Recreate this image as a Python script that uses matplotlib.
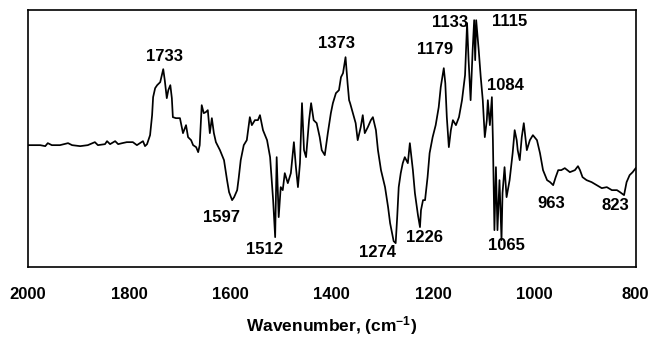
import matplotlib
matplotlib.use("Agg")
import matplotlib.pyplot as plt

plt.rcParams['font.family'] = 'Liberation Sans'
plt.rcParams['font.weight'] = 'bold'
plt.rcParams['mathtext.fontset'] = 'custom'
plt.rcParams['mathtext.rm'] = 'Liberation Sans:bold'
plt.rcParams['mathtext.bf'] = 'Liberation Sans:bold'
plt.rcParams['mathtext.default'] = 'bf'

# difference spectrum, wavenumber (cm-1) vs. relative intensity
wavenumber = [2000, 1976, 1966, 1961, 1953, 1937, 1921, 1913, 1897, 1882,
              1868, 1862, 1848, 1844, 1838, 1828, 1822, 1814, 1805, 1793,
              1785, 1779, 1773, 1769, 1765, 1759, 1755, 1753, 1749, 1745,
              1739, 1733, 1730, 1726, 1723, 1719, 1716, 1714, 1708, 1700,
              1694, 1688, 1684, 1678, 1674, 1668, 1664, 1661, 1657, 1653,
              1649, 1645, 1641, 1637, 1633, 1629, 1621, 1613, 1607, 1603,
              1597, 1593, 1587, 1584, 1580, 1574, 1568, 1562, 1558, 1552,
              1546, 1542, 1536, 1528, 1522, 1516, 1512, 1509, 1505, 1501,
              1497, 1493, 1487, 1481, 1475, 1471, 1467, 1463, 1459, 1455,
              1451, 1445, 1441, 1436, 1430, 1424, 1420, 1414, 1408, 1402,
              1398, 1392, 1386, 1382, 1378, 1373, 1369, 1366, 1364, 1359,
              1353, 1349, 1343, 1339, 1335, 1329, 1323, 1319, 1313, 1309,
              1303, 1295, 1289, 1285, 1278, 1274, 1271, 1268, 1264, 1260,
              1256, 1250, 1246, 1240, 1236, 1230, 1226, 1224, 1220, 1216,
              1211, 1207, 1201, 1195, 1189, 1185, 1179, 1176, 1173, 1169,
              1165, 1161, 1155, 1149, 1143, 1137, 1133, 1130, 1126, 1122,
              1119, 1117, 1115, 1110, 1106, 1102, 1098, 1094, 1092, 1088,
              1084, 1082, 1079, 1076, 1073, 1069, 1065, 1063, 1059, 1055,
              1049, 1043, 1039, 1035, 1033, 1029, 1025, 1021, 1015, 1009,
              1003, 995, 989, 983, 975, 969, 963, 958, 953, 947,
              940, 930, 920, 914, 910, 905, 897, 887, 877, 867,
              857, 847, 837, 831, 823, 818, 812, 806, 800]

intensity = [0.00, 0.00, -0.01, 0.02, 0.00, 0.00, 0.02, 0.00, -0.01, 0.00,
             0.03, 0.00, 0.01, 0.04, 0.01, 0.04, 0.01, 0.02, 0.03, 0.03,
             0.00, 0.02, 0.04, -0.01, 0.01, 0.10, 0.30, 0.48, 0.57, 0.60,
             0.63, 0.76, 0.65, 0.47, 0.55, 0.60, 0.47, 0.28, 0.27, 0.27,
             0.12, 0.20, 0.08, 0.05, 0.00, -0.02, -0.07, 0.00, 0.40, 0.32,
             0.33, 0.35, 0.12, 0.27, 0.12, 0.03, -0.05, -0.15, -0.35, -0.47,
             -0.55, -0.52, -0.45, -0.33, -0.15, 0.00, 0.05, 0.28, 0.20, 0.25,
             0.25, 0.30, 0.15, 0.05, -0.12, -0.55, -0.92, -0.12, -0.72, -0.42,
             -0.45, -0.28, -0.38, -0.28, 0.03, -0.22, -0.42, -0.18, 0.42, -0.05,
             -0.12, 0.25, 0.42, 0.25, 0.22, 0.08, -0.05, -0.10, 0.12, 0.32,
             0.42, 0.52, 0.55, 0.68, 0.72, 0.88, 0.62, 0.45, 0.42, 0.33,
             0.22, 0.05, 0.18, 0.30, 0.12, 0.18, 0.25, 0.28, 0.15, -0.05,
             -0.25, -0.42, -0.62, -0.78, -0.96, -0.98, -0.72, -0.42, -0.28, -0.18,
             -0.12, -0.18, 0.02, -0.25, -0.48, -0.70, -0.82, -0.65, -0.55, -0.55,
             -0.32, -0.08, 0.08, 0.20, 0.38, 0.58, 0.77, 0.62, 0.28, -0.02,
             0.15, 0.25, 0.20, 0.28, 0.45, 0.70, 1.22, 0.85, 0.45, 0.95,
             1.25, 0.85, 1.25, 0.95, 0.68, 0.45, 0.08, 0.25, 0.45, 0.20,
             0.48, 0.05, -0.85, -0.22, -0.85, -0.35, -0.95, -0.48, -0.22, -0.52,
             -0.35, -0.08, 0.15, 0.05, -0.05, -0.15, 0.08, 0.22, -0.05, 0.05,
             0.10, 0.05, -0.08, -0.25, -0.35, -0.37, -0.40, -0.32, -0.25, -0.25,
             -0.23, -0.27, -0.25, -0.21, -0.25, -0.32, -0.35, -0.37, -0.40, -0.43,
             -0.42, -0.45, -0.45, -0.47, -0.50, -0.37, -0.30, -0.27, -0.23]

# peak labels and where their text sits
peak_labels = ['1733', '1597', '1512', '1373', '1274', '1226', '1179',
               '1133', '1115', '1084', '1065', '963', '823']
label_x = [1730, 1617, 1534, 1390, 1309, 1218, 1197,
           1167, 1049, 1057, 1055, 966, 841]
label_y = [0.89, -0.72, -1.04, 1.02, -1.07, -0.92, 0.96,
           1.23, 1.24, 0.60, -1.00, -0.58, -0.60]

fig = plt.figure(figsize=(6.52, 3.39), dpi=100)
ax = fig.add_axes([0.043, 0.212, 0.932, 0.758])

ax.plot(wavenumber, intensity, color='black', linewidth=1.25)

for txt, x, y in zip(peak_labels, label_x, label_y):
    ax.text(x, y, txt, ha='center', va='center', fontsize=12, fontweight='bold')

ax.set_xlim(2000, 800)
ax.set_ylim(-1.22, 1.35)
ax.set_xticks([2000, 1800, 1600, 1400, 1200, 1000, 800])
ax.set_yticks([])
ax.tick_params(axis='x', length=0, pad=14, labelsize=12)
for lab in ax.get_xticklabels():
    lab.set_fontweight('bold')
for sp in ax.spines.values():
    sp.set_linewidth(1.2)

ax.set_xlabel(r'Wavenumber, (cm$^{-1}$)', fontsize=12.5, fontweight='bold', labelpad=9)

fig.savefig('out.png', dpi=100)
